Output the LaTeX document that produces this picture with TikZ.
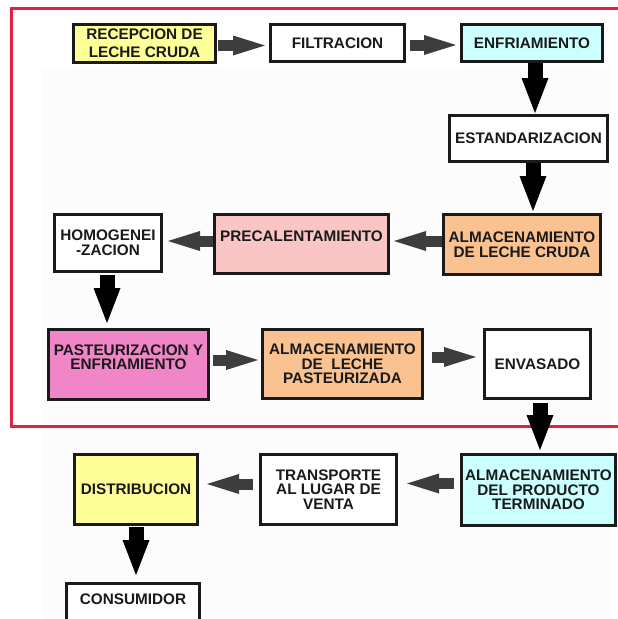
\documentclass[tikz,border=0pt]{standalone}
\usepackage{fontspec}
\setmainfont{Liberation Sans}
\usetikzlibrary{arrows.meta}
\definecolor{yel}{HTML}{FFFF99}
\definecolor{cya}{HTML}{CCFFFF}
\definecolor{ora}{HTML}{FAC290}
\definecolor{pnk}{HTML}{FAC5C5}
\definecolor{mag}{HTML}{F085C8}
\definecolor{frm}{HTML}{E1223F}
\definecolor{harc}{HTML}{3D3D3D}
\definecolor{txt}{HTML}{1A1A1A}
\definecolor{bord}{HTML}{1A1A1A}
\definecolor{panel}{HTML}{FBFCFB}
\tikzset{
  box/.style={draw=bord, line width=2.6pt, inner sep=0pt, align=center, text=txt,
    font=\bfseries\fontsize{15.3}{14.5}\selectfont},
  harrow/.style={draw=harc, line width=11pt,
    -{Triangle[length=32pt,width=20pt,line width=0pt]}},
  varrow/.style={draw=black, line width=15pt,
    -{Triangle[length=35pt,width=27pt,line width=0pt]}},
  frame/.style={draw=frm, line width=3pt}
}
\begin{document}
\begin{tikzpicture}[x=1pt,y=-1pt]
\useasboundingbox (0,0) rectangle (618,619);
\clip (0,0) rectangle (618,619);
\fill[white] (0,0) rectangle (618,619);
\fill[panel] (42,68) rectangle (612,619);
\draw[frame] (11,8) rectangle (640,426);

% row 1
\node[box, fill=yel, minimum width=142pt, minimum height=38pt,
  font=\bfseries\fontsize{15.3}{18}\selectfont] (rec) at (144.5,43.5) {RECEPCION DE\\LECHE CRUDA};
\node[box, fill=white, minimum width=134.4pt, minimum height=37.4pt] (fil) at (337.5,43) {FILTRACION};
\node[box, fill=cya, minimum width=141.4pt, minimum height=37.4pt] (enf) at (532,43) {ENFRIAMIENTO};
\node[box, fill=white, minimum width=158.4pt, minimum height=46.4pt] (est) at (528.5,138.5) {ESTANDARIZACION};

% row 2
\node[box, fill=ora, minimum width=157.4pt, minimum height=60.4pt, font=\bfseries\fontsize{15.3}{15}\selectfont] (alc) at (522,244.5) {ALMACENAMIENTO\\DE LECHE CRUDA};
\node[box, fill=pnk, minimum width=174.4pt, minimum height=59.4pt, font=\bfseries\fontsize{15.3}{15}\selectfont] (pre) at (301.5,244) {PRECALENTAMIENTO\\\mbox{}};
\node[box, fill=white, minimum width=107.4pt, minimum height=57.4pt, font=\bfseries\fontsize{15.3}{15}\selectfont] (hom) at (108,243) {HOMOGENEI\\-ZACION};

% row 3
\node[box, fill=mag, minimum width=160.4pt, minimum height=70.4pt] (pas) at (128.5,364.5) {PASTEURIZACION Y\\ENFRIAMIENTO\\\mbox{}};
\node[box, fill=ora, minimum width=160.4pt, minimum height=69.4pt] (alp) at (342.5,364) {ALMACENAMIENTO\\DE\ \ LECHE\\PASTEURIZADA};
\node[box, fill=white, minimum width=106.4pt, minimum height=69.4pt] (env) at (537.5,364) {ENVASADO};

% row 4
\node[box, fill=cya, minimum width=154.4pt, minimum height=71.4pt] (apt) at (538.5,490) {ALMACENAMIENTO\\DEL PRODUCTO\\TERMINADO};
\node[box, fill=white, minimum width=136.4pt, minimum height=70.4pt] (tra) at (328.5,489.5) {TRANSPORTE\\AL LUGAR DE\\VENTA};
\node[box, fill=yel, minimum width=123.4pt, minimum height=70.4pt] (dis) at (136,489.5) {DISTRIBUCION};
\node[box, fill=white, minimum width=133.4pt, minimum height=45.4pt] (con) at (133,606) {CONSUMIDOR\\\mbox{}};

% connectors
\draw[harrow, shorten <=1pt, shorten >=4pt] ([yshift=-2pt]rec.east) -- ([yshift=-2pt]rec.east -| fil.west);
\draw[harrow, shorten <=4pt, shorten >=4pt] ([yshift=-2pt]fil.east) -- ([yshift=-2pt]fil.east -| enf.west);
\draw[varrow, shorten >=1pt] ([xshift=3pt]enf.south) -- ([xshift=3pt]enf.south |- est.north);
\draw[varrow, shorten >=2pt] ([xshift=4.5pt]est.south) -- ([xshift=4.5pt]est.south |- alc.north);
\draw[harrow, shorten >=4pt] ([yshift=3.5pt]alc.west) -- ([yshift=3.5pt]alc.west -| pre.east);
\draw[harrow, shorten >=5pt] ([yshift=3pt]pre.west) -- ([yshift=3pt]pre.west -| hom.east);
\draw[varrow, shorten <=2pt, shorten >=5pt] ([xshift=-1pt]hom.south) -- ([xshift=-1pt]hom.south |- pas.north);
\draw[harrow, shorten <=3pt, shorten >=3pt] ([yshift=4.5pt]pas.east) -- ([yshift=4.5pt]pas.east -| alp.west);
\draw[harrow, shorten <=8pt, shorten >=7pt] ([yshift=7pt]alp.east) -- ([yshift=7pt]alp.east -| env.west);
\draw[varrow, shorten <=3pt, shorten >=3pt] ([xshift=2.5pt]env.south) -- ([xshift=2.5pt]env.south |- apt.north);
\draw[harrow, shorten <=6pt, shorten >=9pt] ([yshift=6.5pt]apt.west) -- ([yshift=6.5pt]apt.west -| tra.east);
\draw[harrow, shorten <=6pt, shorten >=8pt] ([yshift=5.5pt]tra.west) -- ([yshift=5.5pt]tra.west -| dis.east);
\draw[varrow, shorten <=1pt, shorten >=7pt] (dis.south) -- (dis.south |- con.north);
\end{tikzpicture}
\end{document}
